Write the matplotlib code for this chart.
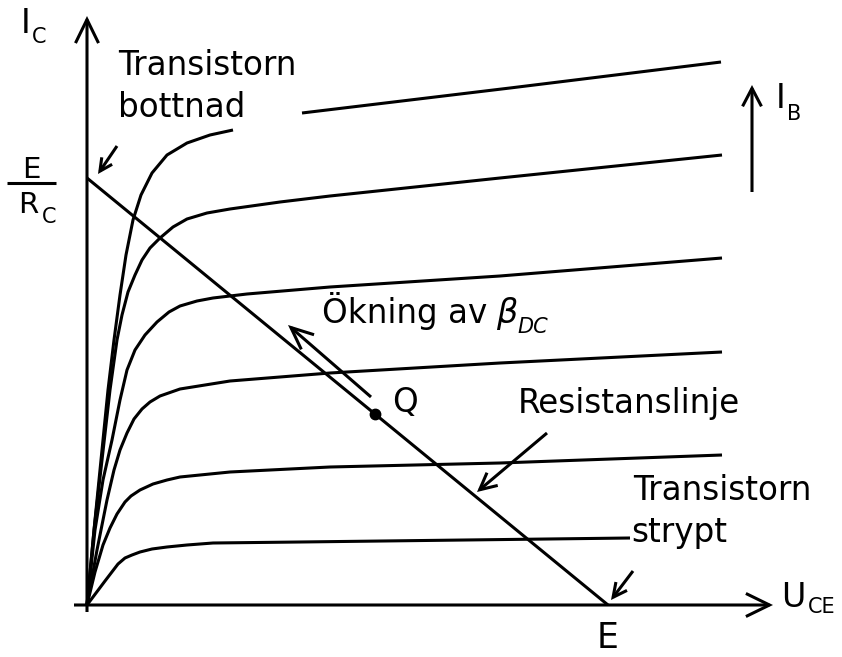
import matplotlib
matplotlib.use("Agg")
import matplotlib.pyplot as plt
from matplotlib.patches import ArrowStyle

plt.rcParams['font.family'] = ['DejaVu Sans']
plt.rcParams['mathtext.fontset'] = 'dejavusans'

# ---- data (schematic units: U_CE horizontal, I_C vertical) ----
curveA_rise_u = [0, 8, 15, 21, 27, 33, 39, 46, 54, 65, 80, 100, 123, 146]
curveA_rise_i = [0, 85, 155, 215, 265, 310, 350, 385, 410, 432, 450, 462, 470, 475]
curveA_flat_u = [215, 423, 634]
curveA_flat_i = [492, 517, 543]

curveB_u = [0, 7, 15, 23, 30, 35, 41, 48, 55, 63, 73, 86, 100, 120, 143, 193, 243, 413, 635]
curveB_i = [0, 75, 145, 215, 265, 290, 313, 330, 345, 357, 367, 378, 386, 392, 396, 403, 409, 427, 450]

curveC_u = [0, 8, 16, 25, 33, 40, 48, 58, 70, 82, 93, 110, 126, 160, 243, 413, 635]
curveC_i = [0, 75, 125, 165, 205, 235, 255, 270, 283, 293, 299, 304, 307, 311, 318, 329, 347]

curveD_u = [0, 10, 20, 27, 33, 40, 47, 55, 63, 73, 93, 143, 243, 413, 635]
curveD_i = [0, 55, 105, 135, 155, 172, 186, 196, 203, 209, 216, 224, 232, 242, 253]

curveE_u = [0, 8, 16, 23, 30, 38, 44, 53, 66, 80, 93, 143, 243, 413, 635]
curveE_i = [0, 33, 60, 77, 91, 103, 109, 115, 121, 125, 128, 133, 138, 142, 150]

curveF_u = [0, 18, 31, 38, 45, 53, 65, 80, 100, 126, 213, 543]
curveF_i = [0, 24, 41, 47, 50, 53, 56, 58, 60, 62, 63, 67]

E_val = 521          # U_CE intercept of the load line
E_over_Rc = 427      # I_C intercept of the load line
Q_u, Q_i = 288, 191  # operating point

LW = 2.2
FS = 23.5

fig = plt.figure(figsize=(8.42, 6.57), dpi=100)
ax = fig.add_axes([0, 0, 1, 1])
ax.set_xlim(-87, 755)
ax.set_ylim(-52, 605)
ax.axis('off')


def arrow(tail, tip, hl, hw, lw=LW):
    ax.annotate('', xy=tip, xytext=tail,
                arrowprops=dict(arrowstyle=ArrowStyle('->', head_length=hl, head_width=hw),
                                mutation_scale=1, lw=lw, color='black',
                                shrinkA=0, shrinkB=0, joinstyle='miter', capstyle='butt'))


# axes
arrow((0, -7), (0, 589), 17, 8.3)
arrow((-13, 0), (686, 0), 17, 8.3)

# characteristic curves
kw = dict(color='black', lw=LW, solid_capstyle='butt', solid_joinstyle='round')
ax.plot(curveA_rise_u, curveA_rise_i, **kw)
ax.plot(curveA_flat_u, curveA_flat_i, **kw)
for u, i in [(curveB_u, curveB_i), (curveC_u, curveC_i), (curveD_u, curveD_i),
             (curveE_u, curveE_i), (curveF_u, curveF_i)]:
    ax.plot(u, i, **kw)

# load line
ax.plot([0, E_val], [E_over_Rc, 0], **kw)
ax.plot([Q_u], [Q_i], 'o', color='black', ms=7.5)

# annotation arrows
arrow((284, 208), (201, 280), 16, 7)       # Ökning av beta
arrow((30, 459), (11, 431), 9, 4.5)        # bottnad
arrow((665, 413), (665, 520), 13, 6.8)     # I_B
arrow((460, 172), (390, 113), 12, 6)       # Resistanslinje
arrow((546, 34), (524, 5), 10, 5)          # strypt

# texts
tk = dict(color='black', va='baseline', ha='left')
ax.text(-66, 572, 'I', fontsize=24, **tk)
ax.text(-55, 562, 'C', fontsize=15, **tk)

ax.text(-56, 427, 'E', fontsize=21, color='black', va='baseline', ha='center')
ax.plot([-80, -31], [422, 422], color='black', lw=LW, solid_capstyle='butt')
ax.text(-69, 392, 'R', fontsize=21, **tk)
ax.text(-45, 382, 'C', fontsize=15, **tk)

ax.text(31, 530, 'Transistorn', fontsize=FS, **tk)
ax.text(31, 488, 'bottnad', fontsize=FS, **tk)

ax.text(689, 497, 'I', fontsize=24, **tk)
ax.text(700, 485, 'B', fontsize=15, **tk)

ax.text(235, 282, 'Ökning av', fontsize=FS, **tk)
ax.text(409, 282, r'$\beta$', fontsize=24, **tk)
ax.text(430, 272, 'DC', fontsize=15, style='italic', **tk)

ax.text(305, 193, 'Q', fontsize=FS, **tk)
ax.text(431, 192, 'Resistanslinje', fontsize=FS, **tk)
ax.text(546, 105, 'Transistorn', fontsize=FS, **tk)
ax.text(544, 63, 'strypt', fontsize=FS, **tk)

ax.text(694, -2, 'U', fontsize=24, **tk)
ax.text(721, -8, 'CE', fontsize=15, **tk)
ax.text(E_val, -43, 'E', fontsize=25, color='black', va='baseline', ha='center')

fig.savefig('out.png', dpi=100)
